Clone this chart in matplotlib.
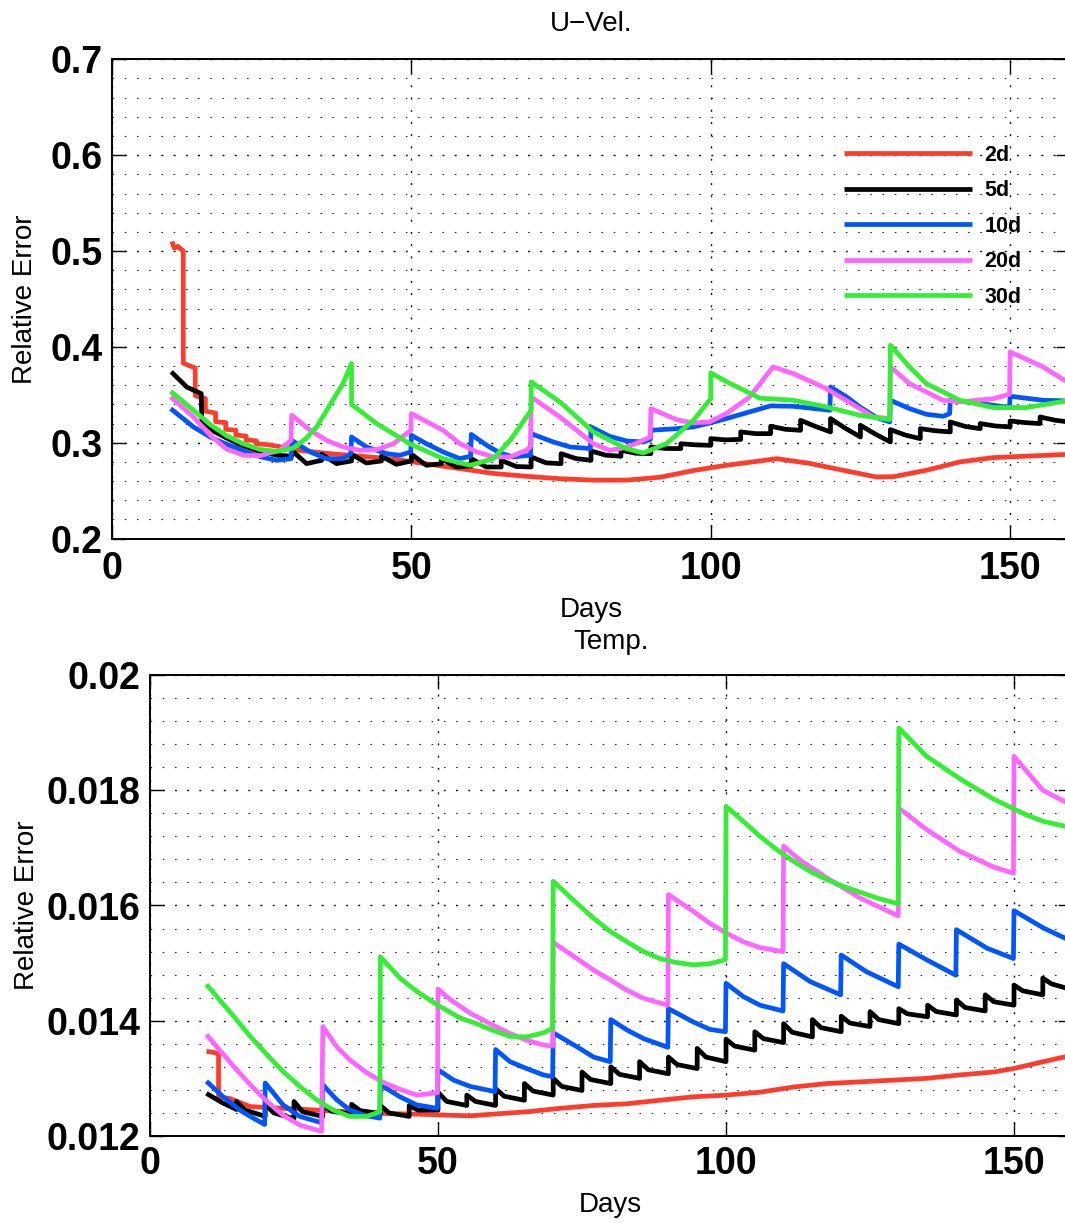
import matplotlib
matplotlib.use('Agg')
import matplotlib.pyplot as plt
from matplotlib.ticker import MultipleLocator, FixedLocator, FixedFormatter

plt.rcParams['font.family'] = ['Liberation Sans', 'DejaVu Sans']
plt.rcParams['lines.scale_dashes'] = False

# ---------------- data ----------------
series_labels = ['2d', '5d', '10d', '20d', '30d']
series_colors = ['#FF3B2B', '#000000', '#0055FF', '#FF66FF', '#33EE33']

x_ticks = [0, 50, 100, 150]
x_ticklabels = ['0', '50', '100', '150']
u_yticks = [0.2, 0.3, 0.4, 0.5, 0.6, 0.7]
u_yticklabels = ['0.2', '0.3', '0.4', '0.5', '0.6', '0.7']
t_yticks = [0.012, 0.014, 0.016, 0.018, 0.020]
t_yticklabels = ['0.012', '0.014', '0.016', '0.018', '0.02']

# U-Vel. relative error (day, value)
u_2d = [(10.0, 0.510), (10.4, 0.503), (11.0, 0.505), (11.9, 0.500), (11.9, 0.383), (13.9, 0.378),
        (13.9, 0.349), (15.6, 0.346), (15.6, 0.333), (17.3, 0.331), (17.3, 0.322), (19.0, 0.321),
        (19.0, 0.314), (20.7, 0.313), (20.7, 0.308), (22.4, 0.307), (22.4, 0.303), (24.1, 0.302),
        (24.1, 0.299), (26.0, 0.298), (28.0, 0.296), (31.4, 0.292), (35.8, 0.289), (41.4, 0.286),
        (47.0, 0.283), (52.5, 0.278), (58.1, 0.273), (63.7, 0.268), (69.2, 0.265), (74.8, 0.2625),
        (80.4, 0.261), (85.9, 0.261), (91.5, 0.264), (97.1, 0.271), (102.6, 0.2765), (108.2, 0.281),
        (111.0, 0.2834), (116.5, 0.2785), (122.1, 0.2713), (127.7, 0.2643), (130.5, 0.2646),
        (136.0, 0.2713), (141.6, 0.280), (147.2, 0.2845), (152.7, 0.286), (160.0, 0.288)]

u_5d = [(9.9, 0.374), (12.5, 0.358), (14.9, 0.3513), (15.0, 0.3235), (17.0, 0.312), (19.1, 0.305),
        (21.4, 0.298), (24.7, 0.291), (27.5, 0.287), (30.0, 0.2859), (30.0, 0.2921), (32.5, 0.2782),
        (35.0, 0.2817), (35.0, 0.288), (37.5, 0.2782), (40.0, 0.281), (40.0, 0.288), (42.5, 0.2789),
        (45.0, 0.281), (45.0, 0.2859), (47.5, 0.2775), (50.0, 0.281), (50.0, 0.288), (52.5, 0.2765),
        (55.0, 0.278), (55.0, 0.2834), (57.5, 0.2747), (60.0, 0.276), (60.0, 0.2834), (62.5, 0.2747),
        (65.0, 0.2747), (65.0, 0.2817), (67.5, 0.2752), (70.0, 0.2747), (70.0, 0.2852), (72.5, 0.279),
        (75.0, 0.2782), (75.0, 0.2886), (77.5, 0.2835), (80.0, 0.2817), (80.0, 0.2914), (82.5, 0.287),
        (85.0, 0.2859), (85.0, 0.2921), (87.5, 0.289), (90.0, 0.2886), (90.0, 0.2956), (92.5, 0.294),
        (95.0, 0.2939), (95.0, 0.299), (97.5, 0.2978), (100.0, 0.2973), (100.0, 0.3043), (102.5, 0.303),
        (105.0, 0.3035), (105.0, 0.3113), (107.5, 0.3095), (110.0, 0.3095), (110.0, 0.3172),
        (112.5, 0.314), (115.0, 0.313), (115.0, 0.3234), (117.5, 0.317), (120.0, 0.3113),
        (120.0, 0.3252), (122.5, 0.315), (125.0, 0.306), (125.0, 0.3182), (127.5, 0.309),
        (130.0, 0.3008), (130.0, 0.3137), (132.5, 0.308), (135.0, 0.3043), (135.0, 0.3147),
        (137.5, 0.3125), (140.0, 0.3113), (140.0, 0.3217), (142.5, 0.317), (145.0, 0.3147),
        (145.0, 0.32), (147.5, 0.3175), (150.0, 0.3165), (150.0, 0.3227), (152.5, 0.321),
        (155.0, 0.32), (155.0, 0.3269), (157.5, 0.3235), (160.0, 0.3215)]

u_10d = [(9.8, 0.3356), (13.6, 0.3165), (16.4, 0.306), (19.1, 0.2985), (21.9, 0.292), (24.7, 0.2855),
         (27.5, 0.2817), (29.9, 0.2834), (30.0, 0.3026), (33.1, 0.2904), (35.8, 0.2834), (38.6, 0.2834),
         (39.9, 0.2886), (40.0, 0.306), (42.5, 0.2956), (45.9, 0.2886), (48.1, 0.2869), (49.9, 0.2904),
         (50.0, 0.3078), (52.5, 0.299), (55.3, 0.2904), (58.1, 0.2834), (59.9, 0.286), (60.0, 0.3087),
         (62.6, 0.2973), (64.8, 0.2893), (67.0, 0.2852), (69.9, 0.287), (70.0, 0.3095), (73.7, 0.3008),
         (76.5, 0.2956), (79.9, 0.2939), (80.0, 0.3165), (83.1, 0.3067), (85.9, 0.3019), (88.7, 0.3008),
         (89.9, 0.3032), (90.0, 0.313), (94.3, 0.3147), (97.1, 0.3165), (99.8, 0.3205), (102.6, 0.3252),
         (106.5, 0.3322), (110.0, 0.3385), (113.8, 0.338), (119.9, 0.3339), (120.0, 0.3582),
         (122.7, 0.3478), (124.9, 0.3374), (127.7, 0.3262), (129.9, 0.3217), (130.0, 0.3443),
         (133.2, 0.3356), (136.0, 0.3297), (138.8, 0.3276), (139.9, 0.3304), (140.0, 0.3443),
         (144.4, 0.3415), (149.9, 0.3367), (150.0, 0.3485), (155.5, 0.3443), (160.0, 0.3436)]

u_20d = [(9.8, 0.3478), (13.6, 0.3269), (16.4, 0.3078), (19.1, 0.2935), (21.9, 0.287), (24.7, 0.2865),
         (28.0, 0.2921), (29.9, 0.3026), (30.0, 0.3287), (33.1, 0.313), (35.8, 0.3026), (38.6, 0.2956),
         (41.4, 0.2921), (44.2, 0.2928), (47.0, 0.299), (49.9, 0.313), (50.0, 0.3304), (55.3, 0.313),
         (58.1, 0.299), (60.9, 0.2904), (63.7, 0.2852), (66.5, 0.2852), (69.2, 0.2921), (69.9, 0.2956),
         (70.0, 0.3478), (74.8, 0.3269), (77.6, 0.313), (80.4, 0.299), (83.1, 0.2921), (85.9, 0.295),
         (88.7, 0.3026), (89.9, 0.306), (90.0, 0.3356), (94.3, 0.3241), (97.1, 0.3207), (99.8, 0.3217),
         (102.6, 0.3304), (106.5, 0.3478), (110.4, 0.3791), (113.8, 0.3722), (119.3, 0.3565),
         (124.9, 0.3356), (127.1, 0.3269), (129.9, 0.3252), (130.0, 0.3791), (133.2, 0.3617),
         (136.0, 0.353), (138.8, 0.3443), (141.6, 0.3426), (147.2, 0.346), (149.9, 0.3506),
         (150.0, 0.3948), (155.5, 0.3791), (160.0, 0.3617)]

u_30d = [(9.8, 0.3537), (13.6, 0.3339), (16.4, 0.319), (19.1, 0.3075), (21.9, 0.299), (24.7, 0.293),
         (27.5, 0.291), (30.3, 0.2945), (32.5, 0.305), (34.2, 0.3167), (36.9, 0.3446), (38.6, 0.362),
         (40.0, 0.3826), (40.0, 0.340), (44.2, 0.320), (49.7, 0.299), (55.3, 0.2834), (59.8, 0.2765),
         (63.7, 0.2834), (66.5, 0.3026), (70.0, 0.3339), (70.0, 0.3635), (74.8, 0.3426), (80.4, 0.3113),
         (85.9, 0.2939), (88.7, 0.2893), (92.6, 0.299), (97.1, 0.3234), (100.0, 0.346), (100.0, 0.3729),
         (102.7, 0.3635), (108.2, 0.3465), (113.8, 0.3443), (119.3, 0.3374), (124.9, 0.3287),
         (129.9, 0.3241), (130.0, 0.4017), (133.2, 0.3791), (136.0, 0.3617), (141.6, 0.3443),
         (147.2, 0.3367), (152.7, 0.3367), (160.0, 0.3443)]

# Temp. relative error (day, value)
t_2d = [(9.8, 0.01347), (11.6, 0.01344), (11.9, 0.01344), (11.9, 0.01268), (13.9, 0.01265),
        (17.4, 0.01251), (23.1, 0.01248), (28.9, 0.01245), (34.7, 0.01242), (40.5, 0.01239),
        (46.3, 0.01238), (52.1, 0.01236), (55.6, 0.01235), (59.6, 0.01238), (65.4, 0.01242),
        (71.2, 0.01248), (77.0, 0.01253), (82.8, 0.01256), (88.5, 0.01262), (94.3, 0.01268),
        (100.1, 0.01271), (105.9, 0.01276), (111.7, 0.01285), (117.5, 0.01291), (123.3, 0.01294),
        (129.1, 0.01297), (134.8, 0.01300), (140.6, 0.01306), (146.4, 0.01311), (149.9, 0.01317),
        (155.1, 0.01329), (160.0, 0.01340)]

t_5d = [(9.8, 0.01274), (12.5, 0.01258), (15.0, 0.01246), (15.0, 0.0126), (16.5, 0.01245),
        (20.0, 0.01234), (20.0, 0.01255), (21.5, 0.0124), (25.0, 0.0123), (25.0, 0.0126),
        (26.5, 0.01242), (30.0, 0.01234), (30.0, 0.01255), (31.5, 0.01243), (35.0, 0.01238),
        (35.0, 0.01255), (36.5, 0.01244), (40.0, 0.01239), (40.0, 0.01253), (41.5, 0.0124),
        (45.0, 0.01234), (45.0, 0.01253), (46.5, 0.01245), (50.0, 0.01245), (50.0, 0.01276),
        (51.5, 0.0126), (55.0, 0.01253), (55.0, 0.01271), (56.5, 0.0126), (60.0, 0.01253),
        (60.0, 0.01282), (61.5, 0.01269), (65.0, 0.01262), (65.0, 0.01291), (66.5, 0.01278),
        (70.0, 0.01271), (70.0, 0.013), (71.5, 0.01286), (75.0, 0.01279), (75.0, 0.01311),
        (76.5, 0.01298), (80.0, 0.01291), (80.0, 0.0132), (81.5, 0.01307), (85.0, 0.013),
        (85.0, 0.01329), (86.5, 0.01315), (90.0, 0.01308), (90.0, 0.01337), (91.5, 0.01324),
        (95.0, 0.01317), (95.0, 0.01352), (96.5, 0.01337), (100.0, 0.01329), (100.0, 0.01368),
        (101.5, 0.01356), (105.0, 0.01349), (105.0, 0.01381), (106.5, 0.01369), (110.0, 0.01362),
        (110.0, 0.01395), (111.5, 0.0138), (115.0, 0.01372), (115.0, 0.01402), (116.5, 0.01388),
        (120.0, 0.01381), (120.0, 0.01408), (121.5, 0.01396), (125.0, 0.0139), (125.0, 0.01416),
        (126.5, 0.01402), (130.0, 0.01395), (130.0, 0.01421), (131.5, 0.01412), (135.0, 0.01407),
        (135.0, 0.01427), (136.5, 0.01416), (140.0, 0.0141), (140.0, 0.01436), (141.5, 0.01423),
        (145.0, 0.01417), (145.0, 0.01445), (146.5, 0.01433), (150.0, 0.01427), (150.0, 0.01462),
        (151.5, 0.01452), (155.0, 0.01445), (155.0, 0.01474), (156.5, 0.01464), (160.0, 0.01454)]

t_10d = [(9.8, 0.01295), (12.7, 0.01268), (15.6, 0.01245), (17.4, 0.01234), (19.9, 0.0122),
         (20.0, 0.01292), (23.1, 0.01254), (26.0, 0.01234), (29.8, 0.01223), (30.0, 0.01289),
         (32.4, 0.01263), (34.7, 0.01245), (37.6, 0.01235), (39.9, 0.01231), (40.0, 0.01289),
         (43.4, 0.01268), (46.3, 0.01254), (49.9, 0.01248), (50.0, 0.01315), (52.7, 0.01297),
         (55.6, 0.01286), (59.9, 0.01277), (60.0, 0.0135), (62.5, 0.01329), (65.4, 0.01317),
         (68.3, 0.01306), (69.9, 0.01303), (70.0, 0.01379), (74.1, 0.01355), (77.0, 0.01337),
         (79.9, 0.01329), (80.0, 0.01402), (82.8, 0.01384), (85.7, 0.01369), (89.9, 0.01354),
         (90.0, 0.01421), (94.3, 0.01398), (97.2, 0.01385), (99.9, 0.01381), (100.0, 0.01465),
         (103.0, 0.01442), (105.9, 0.01427), (109.9, 0.01417), (110.0, 0.01499), (114.6, 0.01468),
         (119.9, 0.01445), (120.0, 0.01514), (124.4, 0.01485), (129.9, 0.01459), (130.0, 0.01533),
         (134.8, 0.01506), (139.9, 0.01479), (140.0, 0.01558), (145.3, 0.01526), (149.9, 0.01508),
         (150.0, 0.01591), (155.1, 0.01561), (160.0, 0.01538)]

t_20d = [(9.8, 0.01376), (14.5, 0.01321), (17.4, 0.01289), (20.3, 0.0126), (23.1, 0.01236),
         (26.0, 0.01219), (29.8, 0.01208), (30.0, 0.0139), (32.4, 0.01355), (34.7, 0.01332),
         (37.6, 0.0131), (40.5, 0.01293), (43.4, 0.01281), (46.3, 0.01271), (49.9, 0.01275),
         (50.0, 0.01455), (52.1, 0.01437), (55.6, 0.01413), (59.6, 0.01392), (62.5, 0.01378),
         (65.4, 0.01366), (68.3, 0.01358), (69.9, 0.01356), (70.0, 0.01536), (74.1, 0.01508),
         (77.0, 0.01488), (79.9, 0.01471), (82.8, 0.01453), (85.7, 0.01439), (89.9, 0.01427),
         (90.0, 0.01619), (94.3, 0.0159), (97.2, 0.01569), (100.1, 0.01552), (103.0, 0.01537),
         (105.9, 0.01527), (109.9, 0.0152), (110.0, 0.01703), (112.8, 0.01679), (117.5, 0.01648),
         (123.3, 0.01613), (129.9, 0.01582), (130.0, 0.01769), (134.8, 0.01732), (140.6, 0.01694),
         (146.4, 0.01667), (149.9, 0.01656), (150.0, 0.01859), (155.0, 0.0180), (160.0, 0.01774)]

t_30d = [(9.8, 0.01463), (14.5, 0.01408), (17.4, 0.01373), (20.3, 0.01341), (23.1, 0.01312),
         (26.0, 0.01286), (28.9, 0.01263), (31.8, 0.01245), (34.7, 0.01234), (37.6, 0.01234),
         (39.9, 0.01242), (40.0, 0.01511), (43.4, 0.01474), (46.3, 0.01451), (49.8, 0.01428),
         (53.8, 0.01405), (56.7, 0.01395), (59.6, 0.01383), (62.5, 0.01373), (65.4, 0.01372),
         (68.3, 0.01379), (69.9, 0.01387), (70.0, 0.01642), (74.1, 0.01604), (77.0, 0.01578),
         (79.9, 0.01555), (82.8, 0.01537), (85.7, 0.0152), (88.5, 0.01508), (91.4, 0.01501),
         (94.3, 0.01497), (97.2, 0.01499), (99.9, 0.01506), (100.0, 0.01772), (103.0, 0.01746),
         (105.9, 0.0172), (108.8, 0.01697), (111.7, 0.01677), (114.6, 0.01659), (117.5, 0.01645),
         (120.4, 0.01633), (123.3, 0.01623), (126.2, 0.01613), (129.9, 0.01603), (130.0, 0.01908),
         (134.8, 0.01859), (140.6, 0.0182), (146.4, 0.01785), (152.2, 0.01757), (155.1, 0.01746),
         (160.0, 0.01735)]

u_series = [u_2d, u_5d, u_10d, u_20d, u_30d]
t_series = [t_2d, t_5d, t_10d, t_20d, t_30d]

# ---------------- figure ----------------
W, H = 1065, 1223
fig = plt.figure(figsize=(W / 100, H / 100), dpi=100)
ax1 = fig.add_axes([112 / W, 1 - 538.6 / H, 958 / W, 479.3 / H])
ax2 = fig.add_axes([150 / W, 1 - 1136 / H, 921.6 / W, 461 / H])

LW = 3.4
for ax, series in ((ax1, u_series), (ax2, t_series)):
    for pts, lab, col in zip(series, series_labels, series_colors):
        xs, ys = zip(*pts)
        ax.plot(xs, ys, color=col, lw=LW, label=lab, solid_joinstyle='round',
                solid_capstyle='butt')


def style(ax, yticks, yticklabels, ylim, yminor, xpad):
    ax.set_xlim(0, 160)
    ax.set_ylim(*ylim)
    ax.xaxis.set_major_locator(FixedLocator(x_ticks))
    ax.xaxis.set_major_formatter(FixedFormatter(x_ticklabels))
    ax.yaxis.set_major_locator(FixedLocator(yticks))
    ax.yaxis.set_major_formatter(FixedFormatter(yticklabels))
    ax.yaxis.set_minor_locator(MultipleLocator(yminor))
    ax.tick_params(which='major', direction='in', length=10, width=1.0,
                   top=True, right=True, labelsize=27)
    ax.tick_params(axis='x', which='major', pad=xpad)
    ax.tick_params(axis='y', which='major', pad=7)
    ax.tick_params(which='minor', length=0)
    for lab in ax.get_xticklabels() + ax.get_yticklabels():
        lab.set_fontweight('bold')
    for sp in ax.spines.values():
        sp.set_linewidth(1.4)
    ax.grid(which='major', color='k', linestyle=(0, (1.4, 7.4)), linewidth=1.0)
    ax.grid(which='minor', axis='y', color='#333333', linestyle=(0, (1.2, 7.6)),
            linewidth=0.8)
    ax.set_axisbelow(True)


style(ax1, u_yticks, u_yticklabels, (0.2, 0.7), 0.02, 9)
style(ax2, t_yticks, t_yticklabels, (0.012, 0.020), 0.0004, 7.5)

ax1.set_title('U\u2212Vel.', fontsize=20, y=1.073, pad=0, va='center')
ax2.set_title('Temp.', fontsize=20, y=1.072, pad=0, va='center')
ax1.set_xlabel('Days', fontsize=20)
ax2.set_xlabel('Days', fontsize=20)
ax1.set_ylabel('Relative Error', fontsize=20)
ax2.set_ylabel('Relative Error', fontsize=20)
ax1.xaxis.set_label_coords(0.5, -0.122)
ax2.xaxis.set_label_coords(0.5, -0.122)
ax1.yaxis.set_label_coords(-0.0772, 0.5)
ax2.yaxis.set_label_coords(-0.1193, 0.5)

ax1.legend(loc='upper left', bbox_to_anchor=(0.764, 0.8212), frameon=False,
           prop={'weight': 'bold', 'size': 15.5}, handlelength=5.94, handletextpad=0.6,
           labelspacing=0.67, borderpad=0, borderaxespad=0)

fig.savefig('out.png', dpi=100)
